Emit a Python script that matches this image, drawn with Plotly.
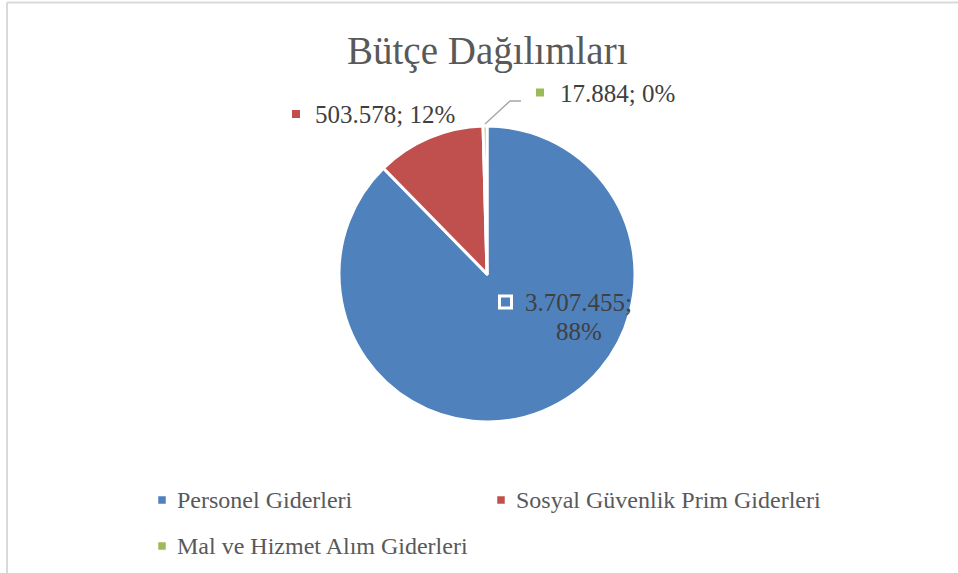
import plotly.graph_objects as go

W, H = 958, 573

title_text = "Bütçe Dağılımları"
categories = ["Personel Giderleri", "Sosyal Güvenlik Prim Giderleri", "Mal ve Hizmet Alım Giderleri"]
values = [3707455, 503578, 17884]
colors = ["#4F81BD", "#C0504D", "#9BBB59"]

total = sum(values)
pcts = [round(v / total * 100) for v in values]


def tr_num(v):
    return f"{v:,}".replace(",", ".")


def px(x):
    return x / W


def py(y):
    return 1 - y / H


FONT = "Liberation Serif, Times New Roman, serif"
CX, CY, R = 487, 274, 148

fig = go.Figure(
    go.Pie(
        labels=categories,
        values=values,
        sort=False,
        direction="clockwise",
        rotation=0,
        marker=dict(colors=colors, line=dict(color="white", width=3)),
        textinfo="none",
        showlegend=False,
        domain=dict(x=[px(CX - R), px(CX + R)], y=[py(CY + R), py(CY - R)]),
    )
)

annotations = []
shapes = []


def ann(text, x, y, size, color, xanchor="center"):
    annotations.append(dict(
        text=text, x=px(x), y=py(y), xref="paper", yref="paper",
        xanchor=xanchor, yanchor="middle", showarrow=False,
        font=dict(family=FONT, size=size, color=color), borderpad=0,
    ))


def square(cx, cy, s, fill, line_color=None, line_width=0):
    shapes.append(dict(
        type="rect", xref="paper", yref="paper",
        x0=px(cx - s / 2), x1=px(cx + s / 2), y0=py(cy + s / 2), y1=py(cy - s / 2),
        fillcolor=fill, line=dict(color=line_color or fill, width=line_width),
    ))


# title
ann(title_text, 487.5, 51, 39, "#595959")

# data labels
lab_color = "#404040"
# Personel (inside)
square(505.5, 302, 12, colors[0], "white", 3)
ann(f"{tr_num(values[0])};", 578.5, 303, 25, lab_color)
ann(f"{pcts[0]}%", 578.5, 331, 25, lab_color)
# Sosyal Güvenlik (outside)
square(296, 114, 8, colors[1])
ann(f"{tr_num(values[1])}; {pcts[1]}%", 314, 115, 25, lab_color, "left")
# Mal ve Hizmet (outside with leader)
square(540, 92.5, 8, colors[2])
ann(f"{tr_num(values[2])}; {pcts[2]}%", 558.5, 93, 25, lab_color, "left")
shapes.append(dict(
    type="path", xref="paper", yref="paper",
    path=f"M {px(485)},{py(124)} L {px(510)},{py(101)} L {px(521)},{py(101)}",
    line=dict(color="#A6A6A6", width=1.3),
))

# legend (manual, Excel style)
legend_pos = [(162, 500, 176), (501, 500, 515), (162, 546, 176)]
for (mx, my, tx), cat, col in zip(legend_pos, categories, colors):
    square(mx, my, 7.5, col)
    ann(cat, tx, my, 24, "#595959", "left")

# chart frame (cropped: only left and top edges visible)
shapes.append(dict(type="line", xref="paper", yref="paper",
                   x0=px(7), x1=px(7), y0=py(2.5), y1=-0.1,
                   line=dict(color="#D9D9D9", width=2)))
shapes.append(dict(type="line", xref="paper", yref="paper",
                   x0=px(7), x1=1.1, y0=py(2.5), y1=py(2.5),
                   line=dict(color="#D9D9D9", width=2)))

fig.update_layout(
    width=W, height=H,
    margin=dict(l=0, r=0, t=0, b=0),
    paper_bgcolor="white", plot_bgcolor="white",
    annotations=annotations, shapes=shapes,
    showlegend=False,
)

fig.write_html(
    "out.html",
    config={"displayModeBar": False},
    post_script="document.body.style.margin='0';document.body.style.overflow='hidden';",
)
